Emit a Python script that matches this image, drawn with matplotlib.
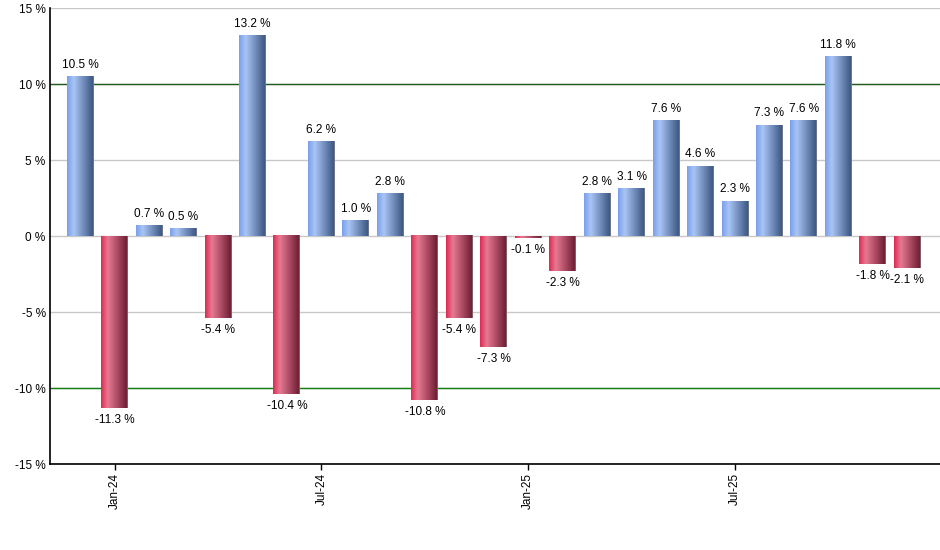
import numpy as np
import matplotlib
matplotlib.use('Agg')
import matplotlib.pyplot as plt
from matplotlib.colors import LinearSegmentedColormap

plt.rcParams['font.family'] = ['Liberation Sans', 'DejaVu Sans']

# monthly returns, Dec-23 .. Dec-25
months = ['Dec-23', 'Jan-24', 'Feb-24', 'Mar-24', 'Apr-24', 'May-24', 'Jun-24', 'Jul-24',
          'Aug-24', 'Sep-24', 'Oct-24', 'Nov-24', 'Dec-24', 'Jan-25', 'Feb-25', 'Mar-25',
          'Apr-25', 'May-25', 'Jun-25', 'Jul-25', 'Aug-25', 'Sep-25', 'Oct-25', 'Nov-25', 'Dec-25']
values = [10.5, -11.3, 0.7, 0.5, -5.4, 13.2, -10.4, 6.2, 1.0, 2.8, -10.8, -5.4, -7.3,
          -0.1, -2.3, 2.8, 3.1, 7.6, 4.6, 2.3, 7.3, 7.6, 11.8, -1.8, -2.1]
tick_labels = ['Jan-24', 'Jul-24', 'Jan-25', 'Jul-25']

blue_cmap = LinearSegmentedColormap.from_list('blu', [(0, '#7aa0ea'), (0.25, '#a9c5f6'), (0.97, '#3c5782'), (1.0, '#8a8a8a')])
red_cmap = LinearSegmentedColormap.from_list('red', [(0, '#dc2c54'), (0.25, '#e87993'), (0.97, '#6e1e34'), (1.0, '#8a8a8a')])
grad = np.linspace(0, 1, 64).reshape(1, -1)

fig = plt.figure(figsize=(9.4, 5.5), dpi=100)
ax = fig.add_axes([0.053, 0.156, 0.947, 0.829])

x = np.arange(len(values))
w = 0.78
for xi, v in zip(x, values):
    cmap = blue_cmap if v >= 0 else red_cmap
    ax.imshow(grad, cmap=cmap, aspect='auto', extent=(xi - w / 2, xi + w / 2, min(0, v), max(0, v)),
              zorder=3, interpolation='bilinear')
    if v >= 0:
        ax.text(xi, v + 0.4, f'{v:.1f} %', ha='center', va='bottom', fontsize=8.5, zorder=4)
    else:
        ax.text(xi, v - 0.4, f'{v:.1f} %', ha='center', va='top', fontsize=8.5, zorder=4)

for yv in range(-15, 16, 5):
    ax.axhline(yv, color='#c8c8c8', lw=1, zorder=1)
ax.axhline(10, color='#1e5e1e', lw=1, zorder=2)
ax.axhline(-10, color='#108010', lw=1, zorder=2)

ax.set_xlim(-0.88, 24.95)
ax.set_ylim(-15, 15)
ax.set_yticks(range(-15, 16, 5))
ax.set_yticklabels([f'{t} %' for t in range(-15, 16, 5)], fontsize=8.5)
ax.set_xticks([months.index(m) for m in tick_labels])
ax.set_xticklabels(tick_labels, rotation=90, fontsize=8.5)
ax.tick_params(axis='y', length=0, pad=3)
ax.tick_params(axis='x', length=4, width=1, pad=2)
for s in ['top', 'right']:
    ax.spines[s].set_visible(False)
ax.spines['left'].set_linewidth(1.2)
ax.spines['bottom'].set_linewidth(1.2)

fig.savefig('out.png', dpi=100)
